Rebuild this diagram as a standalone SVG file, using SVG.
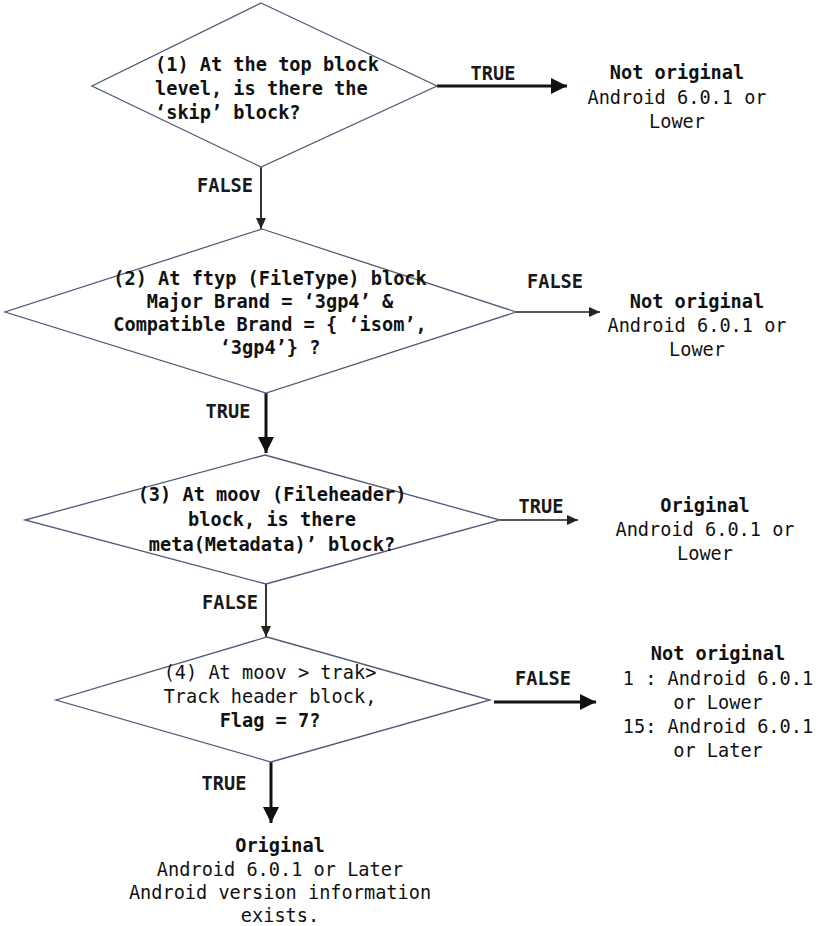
<svg xmlns="http://www.w3.org/2000/svg" width="827" height="926" viewBox="0 0 827 926">
<style>
.d{fill:#fff;stroke:#4f5b78;stroke-width:1.3}
text{font-family:"DejaVu Sans Mono","Liberation Mono",monospace;font-size:18.6px;fill:#111}
.b{font-weight:bold}
.m{text-anchor:middle}
.lbl{font-weight:bold;text-anchor:middle;fill:#1a1a1a}
.ck{fill:none;stroke:#111;stroke-width:3}
.cm{fill:none;stroke:#333;stroke-width:2}
.cg{fill:none;stroke:#555;stroke-width:2.2}
</style>
<defs>
<marker id="ab" markerUnits="userSpaceOnUse" markerWidth="18" markerHeight="16" refX="16" refY="8" orient="auto"><path d="M0,0 L16,8 L0,16 Z" fill="#111"/></marker>
<marker id="as" markerUnits="userSpaceOnUse" markerWidth="12" markerHeight="12" refX="11" refY="6" orient="auto"><path d="M0,1 L11,6 L0,11 Z" fill="#222"/></marker>
</defs>
<rect width="827" height="926" fill="#fff"/>
<g id="connectors">
<path class="ck" d="M437,86 H567" marker-end="url(#ab)"/>
<path class="cm" d="M261,167 V229" marker-end="url(#as)"/>
<path class="cg" d="M516,312 H600" marker-end="url(#as)"/>
<path class="ck" d="M266,393 V453" marker-end="url(#ab)"/>
<path class="cg" d="M500,520 H578" marker-end="url(#as)"/>
<path class="cm" d="M266,584 V637" marker-end="url(#as)"/>
<path class="ck" d="M494,702 H596" marker-end="url(#ab)"/>
<path class="ck" d="M271,762 V823" marker-end="url(#ab)"/>
<text class="lbl" x="493" y="80">TRUE</text>
<text class="lbl" x="225" y="192">FALSE</text>
<text class="lbl" x="555" y="288">FALSE</text>
<text class="lbl" x="228" y="418">TRUE</text>
<text class="lbl" x="541" y="513">TRUE</text>
<text class="lbl" x="230" y="609">FALSE</text>
<text class="lbl" x="543" y="685">FALSE</text>
<text class="lbl" x="224" y="790">TRUE</text>
</g>
<g id="n1">
<polygon class="d" points="261,3 437,86 261,167 92,86"/>
<text class="b" x="155" y="71">(1) At the top block</text>
<text class="b" x="155" y="95">level, is there the</text>
<text class="b" x="155" y="119">‘skip’ block?</text>
</g>
<g id="n2">
<polygon class="d" points="262,229 516,312 266,393 5,312"/>
<text class="b m" x="270" y="285">(2) At ftyp (FileType) block</text>
<text class="b m" x="270" y="308">Major Brand = ‘3gp4’ &amp;</text>
<text class="b m" x="270" y="331">Compatible Brand = { ‘isom’,</text>
<text class="b m" x="270" y="354">‘3gp4’} ?</text>
</g>
<g id="n3">
<polygon class="d" points="265,455 500,520 266,584 25,520"/>
<text class="b m" x="272" y="501">(3) At moov (Fileheader)</text>
<text class="b m" x="272" y="526">block, is there</text>
<text class="b m" x="272" y="551">meta(Metadata)’ block?</text>
</g>
<g id="n4">
<polygon class="d" points="267,637 490,700 271,762 56,700"/>
<text class="m" x="270" y="679">(4) At moov &gt; trak&gt;</text>
<text class="m" x="270" y="703">Track header block,</text>
<text class="b m" x="270" y="727">Flag = 7?</text>
</g>
<g id="o1">
<text class="b m" x="677" y="79">Not original</text>
<text class="m" x="677" y="104">Android 6.0.1 or</text>
<text class="m" x="677" y="128">Lower</text>
</g>
<g id="o2">
<text class="b m" x="697" y="308">Not original</text>
<text class="m" x="697" y="332">Android 6.0.1 or</text>
<text class="m" x="697" y="356">Lower</text>
</g>
<g id="o3">
<text class="b m" x="705" y="512">Original</text>
<text class="m" x="705" y="536">Android 6.0.1 or</text>
<text class="m" x="705" y="560">Lower</text>
</g>
<g id="o4">
<text class="b m" x="718" y="660">Not original</text>
<text class="m" x="718" y="685">1 : Android 6.0.1</text>
<text class="m" x="718" y="709">or Lower</text>
<text class="m" x="718" y="733">15: Android 6.0.1</text>
<text class="m" x="718" y="757">or Later</text>
</g>
<g id="o5">
<text class="b m" x="280" y="852">Original</text>
<text class="m" x="280" y="876">Android 6.0.1 or Later</text>
<text class="m" x="280" y="899">Android version information</text>
<text class="m" x="280" y="922">exists.</text>
</g>
</svg>
